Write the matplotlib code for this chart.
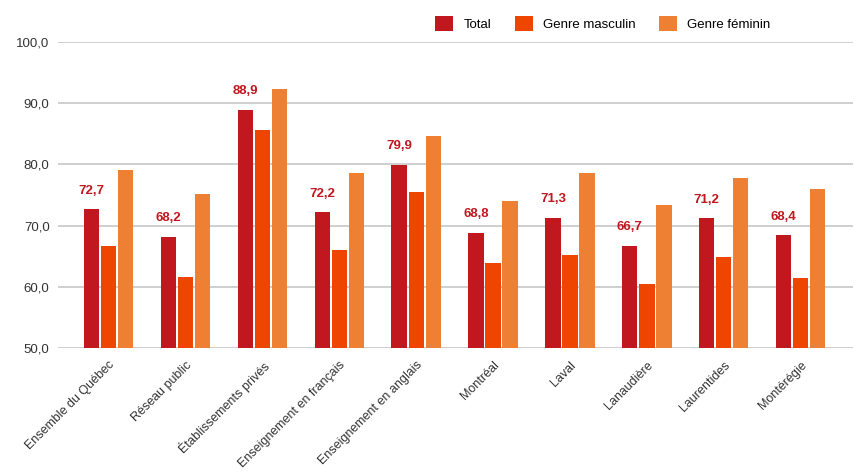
import numpy as np
import matplotlib.pyplot as plt

plt.rcParams['font.family'] = ['Liberation Sans', 'DejaVu Sans']

categories = ["Ensemble du Québec", "Réseau public", "Établissements privés",
              "Enseignement en français", "Enseignement en anglais",
              "Montréal", "Laval", "Lanaudière", "Laurentides", "Montérégie"]
total = [72.7, 68.2, 88.9, 72.2, 79.9, 68.8, 71.3, 66.7, 71.2, 68.4]
masculin = [66.7, 61.6, 85.6, 66.0, 75.4, 63.9, 65.1, 60.4, 64.8, 61.4]
feminin = [79.1, 75.2, 92.3, 78.6, 84.6, 74.0, 78.6, 73.3, 77.7, 75.9]
series_names = ["Total", "Genre masculin", "Genre féminin"]
yticks = [50, 60, 70, 80, 90, 100]

colors = ["#c1171e", "#ee4500", "#ee8033"]

fig = plt.figure(figsize=(8.65, 4.72), dpi=100)
ax = fig.add_axes([0.067, 0.263, 0.919, 0.648])

x = np.arange(len(categories))
step = 0.222
width = 0.2
bars = []
for i, (vals, col, name) in enumerate(zip([total, masculin, feminin], colors, series_names)):
    b = ax.bar(x + (i - 1) * step, np.array(vals) - 50, width, bottom=50,
               color=col, label=name, zorder=3)
    bars.append(b)

# value labels above the total bars
for xi, v in zip(x, total):
    ax.annotate(f"{v:.1f}".replace(".", ","), (xi - step, v),
                xytext=(0, 9), textcoords="offset points",
                ha="center", va="bottom", color="#c1171e",
                fontsize=9.5, fontweight="bold")

ax.set_ylim(50, 100)
ax.set_xlim(-0.66, len(categories) - 1 + 0.68)
ax.set_yticks(yticks)
ax.set_yticklabels([f"{t:.1f}".replace(".", ",") for t in yticks],
                   fontsize=9.5, color="#333333")
ax.yaxis.grid(True, color="#cfcfcf", linewidth=1.4, zorder=0)
ax.tick_params(axis="both", length=0)
ax.tick_params(axis="y", pad=6)
ax.set_xticks(x)
ax.set_xticklabels(categories, rotation=45, ha="right", rotation_mode="anchor",
                   fontsize=9, color="#333333")
ax.tick_params(axis="x", pad=8)
for s in ax.spines.values():
    s.set_visible(False)

fig.legend(handles=bars, labels=series_names, loc="center",
           bbox_to_anchor=(0.697, 0.951), ncol=3, frameon=False,
           fontsize=9.5, handlelength=1.36, handleheight=1.36,
           columnspacing=1.75, handletextpad=0.8)

fig.savefig("out.png", dpi=100)
